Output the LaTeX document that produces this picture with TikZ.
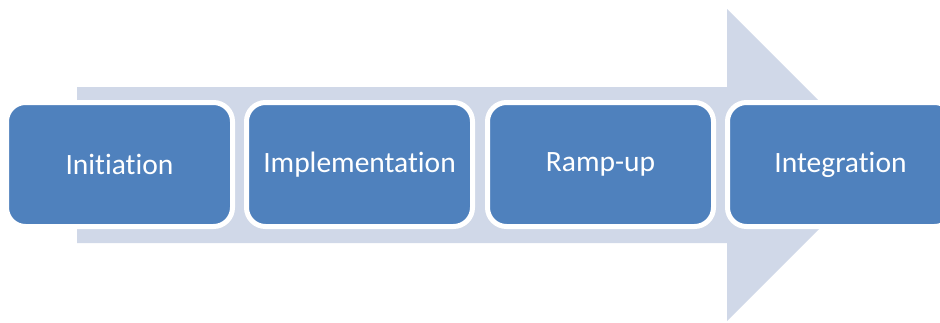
\documentclass[tikz,border=0pt]{standalone}
\usepackage{fontspec}
\setmainfont{Carlito}[Ligatures={NoCommon}]
\definecolor{boxblue}{HTML}{4F81BD}
\definecolor{arrowgray}{HTML}{D0D8E8}
\begin{document}
\begin{tikzpicture}[x=1pt,y=-1pt,
  stepbox/.style={rectangle, rounded corners=19pt, fill=boxblue, draw=white,
    line width=5pt, minimum width=226pt, minimum height=124pt,
    text=white, font=\fontsize{29.5}{34}\selectfont, inner sep=0pt}]
\clip (0,0) rectangle (940,322);
\useasboundingbox (0,0) rectangle (940,322);
\fill[white] (0,0) rectangle (940,322);
\fill[arrowgray] (77,87) -- (727,87) -- (727,9) -- (883,165) -- (727,321) -- (727,243) -- (77,243) -- cycle;
\node[stepbox] (b1) at (119.5,164.5) {Initiation};
\node[stepbox] (b2) at (359.5,164.5) {Implementation};
\node[stepbox] (b3) at (600.5,164.5) {Ramp-up};
\node[stepbox] (b4) at (840.5,164.5) {Integration};
\end{tikzpicture}
\end{document}
